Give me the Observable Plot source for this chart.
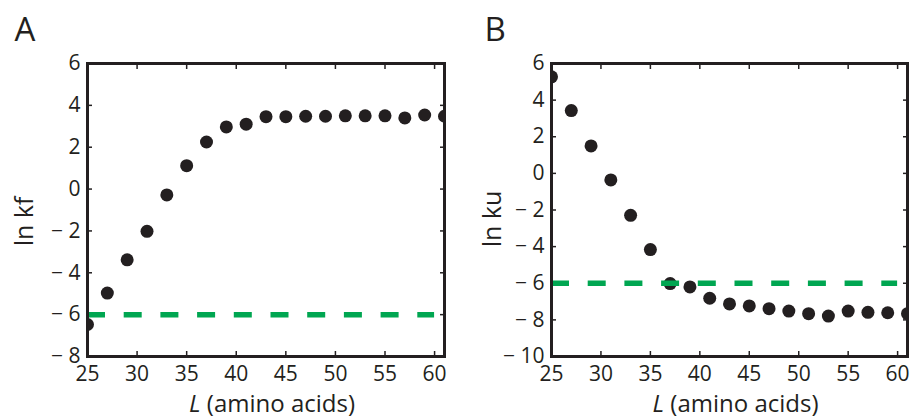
<!DOCTYPE html>
<html>
<head>
<meta charset="utf-8">
<script src="https://cdn.jsdelivr.net/npm/d3@7"></script>
<script src="https://cdn.jsdelivr.net/npm/@observablehq/plot@0.6"></script>
<style>
  html, body { margin: 0; padding: 0; background: #fff; }
  #wrap { display: flex; width: 912px; height: 418px; overflow: hidden; }
</style>
</head>
<body>
<div id="wrap"></div>
<script>
// ---- data ----
const lengths = [25, 27, 29, 31, 33, 35, 37, 39, 41, 43, 45, 47, 49, 51, 53, 55, 57, 59, 61];
const lnKf = [-6.47, -4.97, -3.38, -2.02, -0.28, 1.12, 2.25, 2.97, 3.1, 3.46, 3.46, 3.48, 3.48, 3.5, 3.5, 3.5, 3.4, 3.54, 3.48];
const lnKu = [5.27, 3.43, 1.5, -0.36, -2.29, -4.16, -6.02, -6.2, -6.82, -7.13, -7.24, -7.39, -7.52, -7.66, -7.79, -7.52, -7.59, -7.61, -7.66];
const thresholdLevel = [-6];
const thresholdSpan = [25, 60];
const xDomain = [25, 61];
const xTicks = [25, 30, 35, 40, 45, 50, 55, 60];
const yDomainA = [-8, 6];
const yTicksA = [-8, -6, -4, -2, 0, 2, 4, 6];
const yDomainB = [-10, 6];
const yTicksB = [-10, -8, -6, -4, -2, 0, 2, 4, 6];
const panelLetters = ["A", "B"];
const yLabels = ["ln kf", "ln ku"];
const xLabel = "L (amino acids)";

const ink = "#231f20";
const green = "#00a651";
const font = "Open Sans, sans-serif";
const fmtY = d => d < 0 ? "\u2212 " + (-d) : String(d);

function panel({values, yDomain, yTicks, letter, yLabel, ml, mr, letterDx, ylabDx, ylabDy, xlabDx}) {
  const rows = lengths.map((L, i) => ({L, v: values[i]}));
  const plot = Plot.plot({
    width: 456,
    height: 418,
    marginLeft: ml,
    marginRight: mr,
    marginTop: 63,
    marginBottom: 62,
    style: {fontFamily: font, color: ink, background: "#fff", overflow: "visible"},
    x: {domain: xDomain, axis: null},
    y: {domain: yDomain, axis: null},
    marks: [
      Plot.axisX({anchor: "bottom", ticks: xTicks, tickSize: -5, tickPadding: 15, fontSize: 21, stroke: ink, fill: ink, strokeWidth: 1.5, label: null}),
      Plot.axisX({anchor: "top", ticks: xTicks, tickSize: -5, tickFormat: () => "", stroke: ink, strokeWidth: 1.5, label: null}),
      Plot.axisY({anchor: "left", ticks: yTicks, tickSize: -5, tickPadding: 12, fontSize: 21, tickFormat: fmtY, stroke: ink, fill: ink, strokeWidth: 1.5, label: null}),
      Plot.axisY({anchor: "right", ticks: yTicks, tickSize: -5, tickFormat: () => "", stroke: ink, strokeWidth: 1.5, label: null}),
      Plot.dot(rows, {x: "L", y: "v", r: 6.5, fill: ink, stroke: null, clip: true}),
      Plot.ruleY(thresholdLevel, {y: d => d, x1: thresholdSpan[0], x2: thresholdSpan[1], stroke: green, strokeWidth: 5.5, strokeDasharray: "18,18.7"}),
      Plot.frame({stroke: ink, strokeWidth: 3}),
      Plot.text([letter], {frameAnchor: "top-left", text: d => d, textAnchor: "start", lineAnchor: "bottom", dx: letterDx, dy: -23, fontSize: 33, fill: ink}),
      Plot.text([yLabel], {frameAnchor: "left", text: d => d, rotate: -90, textAnchor: "middle", lineAnchor: "bottom", dx: ylabDx, dy: ylabDy, fontSize: 25, fill: ink}),
      Plot.text([xLabel], {frameAnchor: "bottom", text: d => d, textAnchor: "middle", lineAnchor: "bottom", dx: xlabDx, dy: 55, fontSize: 24, fill: ink})
    ]
  });
  // italicise the "L" of the x label
  plot.querySelectorAll("text").forEach(t => {
    if (t.textContent === xLabel) {
      const rest = xLabel.slice(1);
      t.textContent = "";
      const ns = "http://www.w3.org/2000/svg";
      const a = document.createElementNS(ns, "tspan");
      a.setAttribute("font-style", "italic");
      a.textContent = "L";
      const b = document.createElementNS(ns, "tspan");
      b.textContent = rest;
      t.appendChild(a);
      t.appendChild(b);
    }
  });
  return plot;
}

const wrap = document.getElementById("wrap");
wrap.appendChild(panel({values: lnKf, yDomain: yDomainA, yTicks: yTicksA, letter: panelLetters[0], yLabel: yLabels[0], ml: 87, mr: 12, letterDx: -73, ylabDx: -55, ylabDy: 11.5, xlabDx: 6}));
wrap.appendChild(panel({values: lnKu, yDomain: yDomainB, yTicks: yTicksB, letter: panelLetters[1], yLabel: yLabels[1], ml: 95, mr: 5, letterDx: -67, ylabDx: -51, ylabDy: 9, xlabDx: 6}));
</script>
</body>
</html>
